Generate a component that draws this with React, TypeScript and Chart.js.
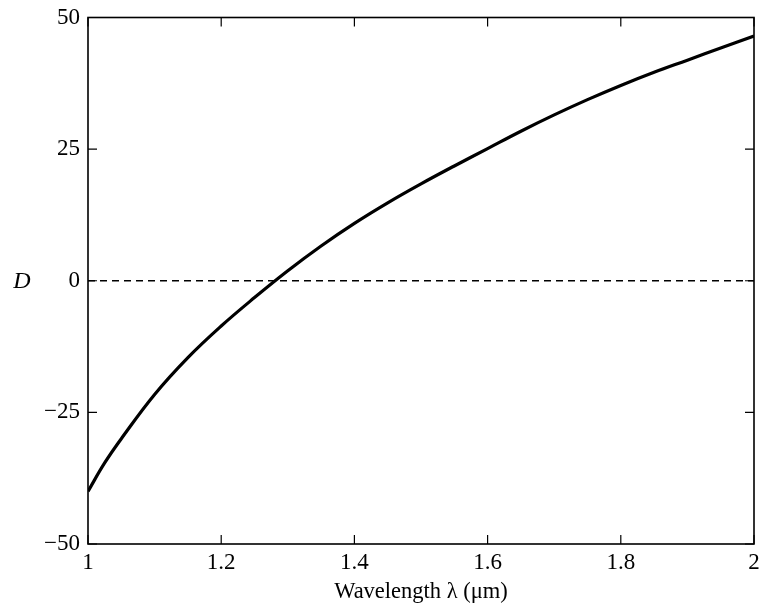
import React, { useEffect, useRef } from "react";
import { Chart, registerables } from "chart.js";

Chart.register(...registerables);

const wavelengths = [1.0, 1.025, 1.05, 1.1, 1.15, 1.2, 1.25, 1.3, 1.35, 1.4, 1.45, 1.5, 1.55, 1.6, 1.65, 1.7, 1.75, 1.8, 1.85, 1.9, 1.95, 2.0];
const dispersion = [-40, -34.6, -30.0, -21.6, -14.6, -8.6, -3.2, 1.9, 6.6, 10.9, 14.8, 18.4, 21.8, 25.1, 28.4, 31.5, 34.4, 37.1, 39.6, 41.9, 44.2, 46.5];
const zeroLine = [0, 0];
const zeroLineX = [1, 2];
const xTicks = [1, 1.2, 1.4, 1.6, 1.8, 2];
const yTicks = [-50, -25, 0, 25, 50];
const xTitle = "Wavelength \u03bb (\u03bcm)";
const yTitle = "D";

const SERIF = "'Liberation Serif', 'DejaVu Serif', serif";

const frameTicks = {
  id: "frameTicks",
  afterDatasetsDraw(chart: any) {
    const { ctx, chartArea: a, scales } = chart;
    const xs = scales.x;
    const ys = scales.y;
    ctx.save();
    ctx.strokeStyle = "#000";
    ctx.lineWidth = 1.6;
    ctx.strokeRect(a.left, a.top, a.right - a.left, a.bottom - a.top);
    ctx.lineWidth = 1.2;
    const L = 9;
    ctx.beginPath();
    xTicks.forEach((v) => {
      const px = xs.getPixelForValue(v);
      ctx.moveTo(px, a.bottom);
      ctx.lineTo(px, a.bottom - L);
      ctx.moveTo(px, a.top);
      ctx.lineTo(px, a.top + L);
    });
    yTicks.forEach((v) => {
      const py = ys.getPixelForValue(v);
      ctx.moveTo(a.left, py);
      ctx.lineTo(a.left + L, py);
      ctx.moveTo(a.right, py);
      ctx.lineTo(a.right - L, py);
    });
    ctx.stroke();
    ctx.fillStyle = "#000";
    ctx.font = "italic 24px " + SERIF;
    ctx.textAlign = "center";
    ctx.textBaseline = "middle";
    ctx.fillText(yTitle, 22, ys.getPixelForValue(0) + 1);
    ctx.restore();
  },
};

export default function App() {
  const ref = useRef<HTMLCanvasElement | null>(null);
  useEffect(() => {
    document.body.style.margin = "0";
    const canvas = ref.current;
    if (!canvas) return;
    const chart = new Chart(canvas, {
      type: "line",
      data: {
        datasets: [
          {
            data: zeroLineX.map((x, i) => ({ x, y: zeroLine[i] })),
            borderColor: "#000",
            borderWidth: 1.5,
            borderDash: [7, 5],
            pointRadius: 0,
          },
          {
            data: wavelengths.map((x, i) => ({ x, y: dispersion[i] })),
            borderColor: "#000",
            borderWidth: 3.2,
            pointRadius: 0,
            tension: 0.4,
          },
        ],
      },
      options: {
        responsive: false,
        animation: false,
        events: [],
        layout: { padding: { top: 17.5, right: 5, left: 0, bottom: 0 } },
        plugins: { legend: { display: false }, tooltip: { enabled: false } },
        scales: {
          x: {
            type: "linear",
            min: 1,
            max: 2,
            grid: { display: false, drawTicks: false, tickLength: 0 },
            border: { display: false },
            afterBuildTicks: (s: any) => {
              s.ticks = xTicks.map((v) => ({ value: v }));
            },
            afterFit: (s: any) => {
              s.height = 63;
              s.paddingLeft = 0;
              s.paddingRight = 0;
            },
            ticks: {
              color: "#000",
              padding: 5,
              font: { family: SERIF, size: 23 },
              maxRotation: 0,
              autoSkip: false,
              callback: (v: any) => String(v),
            },
            title: {
              display: true,
              text: xTitle,
              color: "#000",
              font: { family: SERIF, size: 22.5 },
              padding: { top: 0, bottom: 1 },
            },
          },
          y: {
            type: "linear",
            min: -50,
            max: 50,
            grid: { display: false, drawTicks: false, tickLength: 0 },
            border: { display: false },
            afterBuildTicks: (s: any) => {
              s.ticks = yTicks.map((v) => ({ value: v }));
            },
            afterFit: (s: any) => {
              s.width = 88;
              s.paddingTop = 0;
              s.paddingBottom = 0;
            },
            ticks: {
              color: "#000",
              padding: 8,
              font: { family: SERIF, size: 23 },
              autoSkip: false,
              callback: (v: any) => (v < 0 ? "\u2212" + Math.abs(v) : String(v)),
            },
          },
        },
      },
      plugins: [frameTicks],
    });
    return () => chart.destroy();
  }, []);
  return <canvas ref={ref} width={759} height={607} style={{ display: "block" }} />;
}
